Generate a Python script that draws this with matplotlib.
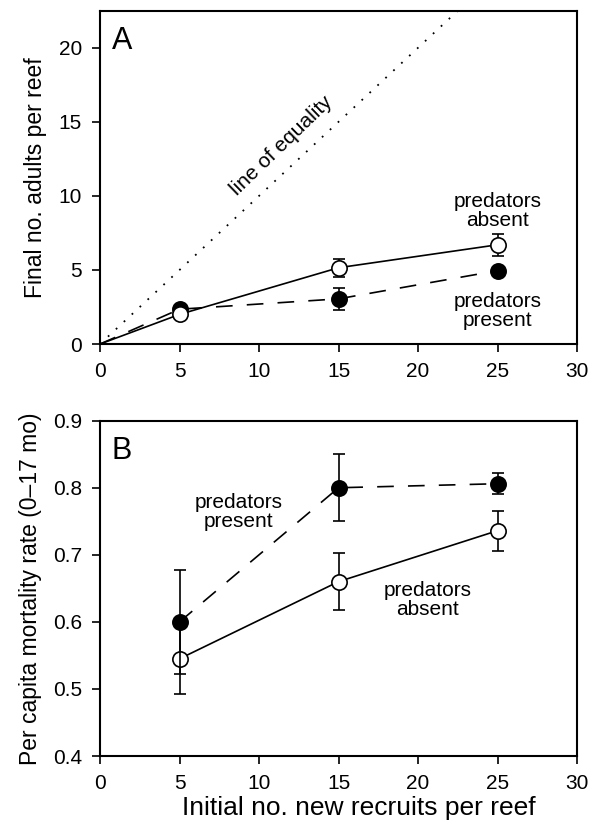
import matplotlib
matplotlib.use('Agg')
import matplotlib.pyplot as plt

plt.rcParams['font.family'] = ['Liberation Sans', 'DejaVu Sans']

# Panel A: final adults per reef
recruits = [5, 15, 25]
absent_a = [2.0, 5.15, 6.7]
absent_a_err = [0.0, 0.6, 0.75]
present_a = [2.35, 3.05, 4.95]
present_a_err = [0.0, 0.75, 0.0]

# Panel B: per capita mortality rate
absent_b = [0.545, 0.66, 0.736]
absent_b_err = [0.053, 0.042, 0.03]
present_b = [0.60, 0.80, 0.806]
present_b_err = [0.078, 0.05, 0.016]

fig = plt.figure(figsize=(5.94, 8.26), dpi=100)
axA = fig.add_axes([0.1684, 0.5835, 0.803, 0.4035])
axB = fig.add_axes([0.1684, 0.0847, 0.803, 0.406])

dash = (0, (10, 8.5))
mk = dict(marker='o', markersize=11, markeredgecolor='black', markeredgewidth=1.2,
          capsize=4.5, elinewidth=1.2, ecolor='black', capthick=1.2, linestyle='none')

# line of equality
axA.plot([0, 30], [0, 30], color='black', linestyle=(0, (1, 5)), linewidth=1.3)
axA.plot([0] + recruits, [0] + present_a, color='black', linestyle=dash, linewidth=1.2)
axA.plot([0] + recruits, [0] + absent_a, color='black', linestyle='-', linewidth=1.2)
axA.errorbar(recruits, present_a, yerr=present_a_err, markerfacecolor='black', zorder=3, **mk)
axA.errorbar(recruits, absent_a, yerr=absent_a_err, markerfacecolor='white', zorder=4, **mk)
axA.set_xlim(0, 30)
axA.set_ylim(0, 22.5)
axA.set_yticks([0, 5, 10, 15, 20])
axA.set_xticks([0, 5, 10, 15, 20, 25, 30])
axA.set_ylabel('Final no. adults per reef', fontsize=16.5, labelpad=8)
axA.text(0.025, 0.955, 'A', transform=axA.transAxes, fontsize=22, va='top', ha='left')
axA.text(25, 9.0, 'predators\nabsent', ha='center', va='center', fontsize=15, linespacing=1.0)
axA.text(25, 2.2, 'predators\npresent', ha='center', va='center', fontsize=15, linespacing=1.0)
axA.text(11.4, 13.4, 'line of equality', ha='center', va='center', fontsize=15, rotation=44)

axB.plot(recruits, present_b, color='black', linestyle=dash, linewidth=1.2)
axB.plot(recruits, absent_b, color='black', linestyle='-', linewidth=1.2)
axB.errorbar(recruits, absent_b, yerr=absent_b_err, markerfacecolor='white', zorder=3, **mk)
axB.errorbar(recruits, present_b, yerr=present_b_err, markerfacecolor='black', zorder=4, **mk)
axB.set_xlim(0, 30)
axB.set_ylim(0.4, 0.9)
axB.set_yticks([0.4, 0.5, 0.6, 0.7, 0.8, 0.9])
axB.set_xticks([0, 5, 10, 15, 20, 25, 30])
axB.set_ylabel('Per capita mortality rate (0\u201317 mo)', fontsize=16.5, labelpad=8)
axB.set_xlabel('Initial no. new recruits per reef', fontsize=19)
axB.xaxis.set_label_coords(0.543, -0.118)
axB.text(0.025, 0.955, 'B', transform=axB.transAxes, fontsize=22, va='top', ha='left')
axB.text(8.7, 0.764, 'predators\npresent', ha='center', va='center', fontsize=15, linespacing=1.0)
axB.text(20.6, 0.632, 'predators\nabsent', ha='center', va='center', fontsize=15, linespacing=1.0)

for ax in (axA, axB):
    ax.tick_params(direction='out', length=6, width=1.2, pad=7, labelsize=15, top=False, right=False)
    for s in ax.spines.values():
        s.set_linewidth(1.5)

fig.savefig('out.png', dpi=100)
